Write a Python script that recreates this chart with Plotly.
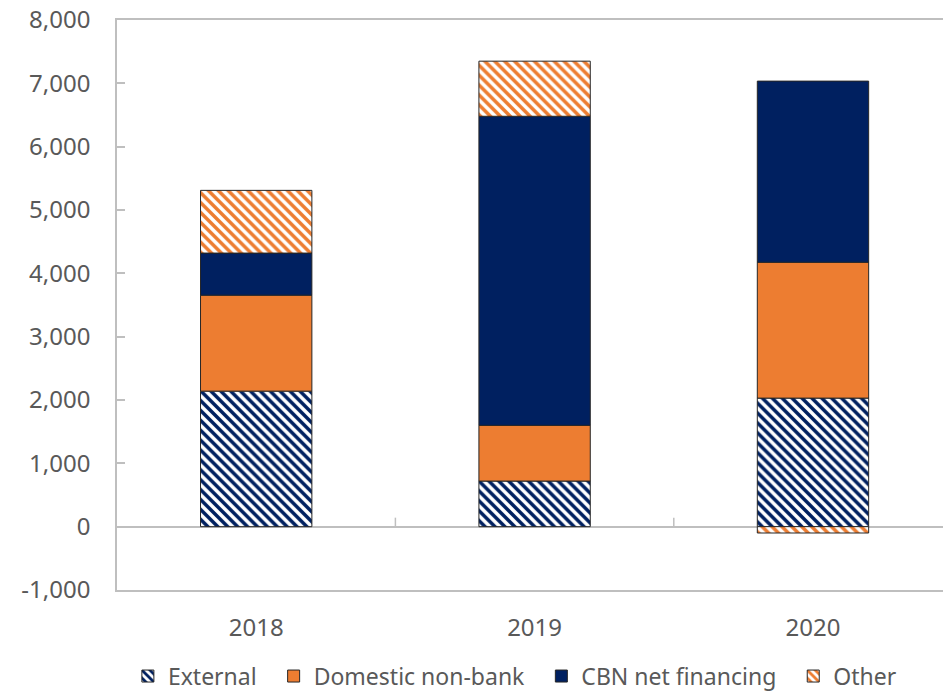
import plotly.graph_objects as go

categories = ["2018", "2019", "2020"]
series_names = ["External", "Domestic non-bank", "CBN net financing", "Other"]
external = [2140, 720, 2030]
domestic_non_bank = [1515, 880, 2145]
cbn_net_financing = [665, 4880, 2860]
other = [990, 870, -100]
y_tick_values = [-1000, 0, 1000, 2000, 3000, 4000, 5000, 6000, 7000, 8000]
y_tick_labels = [f"{v:,}" for v in y_tick_values]

NAVY = "#002060"
ORANGE = "#ED7D31"
OUTLINE = "#262626"
AXIS = "#BFBFBF"
TEXT = "#595959"
FONT = "Noto Sans"

fig = go.Figure()

def add_bar(name, values, color, hatched, pad):
    marker = dict(color=color, line=dict(color=OUTLINE, width=1))
    if hatched:
        marker["pattern"] = dict(shape="\\", fgcolor=color, bgcolor="white",
                                 size=7, solidity=0.5, fillmode="replace")
    fig.add_trace(go.Bar(name=name + "\u00a0" * pad, x=categories, y=values,
                         marker=marker, width=0.4))

add_bar(series_names[0], external, NAVY, True, 2)
add_bar(series_names[1], domestic_non_bank, ORANGE, False, 2)
add_bar(series_names[2], cbn_net_financing, NAVY, False, 2)
add_bar(series_names[3], other, ORANGE, True, 0)

n = len(categories)
shapes = []
for i in range(n - 1):
    shapes.append(dict(type="line", xref="x", yref="y", x0=i + 0.5, x1=i + 0.5,
                       ysizemode="pixel", yanchor=0, y0=0, y1=9,
                       line=dict(color=AXIS, width=1.5), layer="below"))

fig.update_layout(
    width=943, height=692,
    barmode="relative",
    plot_bgcolor="white", paper_bgcolor="white",
    margin=dict(l=117, r=0, t=20, b=102),
    font=dict(family=FONT, size=24, color=TEXT),
    showlegend=True,
    legend=dict(orientation="h", xref="container", x=0.546, xanchor="center",
                yref="container", y=0.023, yanchor="middle",
                font=dict(family=FONT, size=23, color=TEXT),
                traceorder="normal", itemwidth=30, tracegroupgap=0),
    shapes=shapes,
    xaxis=dict(type="category", range=[-0.5, n - 0.533],
               showline=True, linecolor=AXIS, linewidth=1.5, mirror=True,
               ticks="outside", ticklen=15, tickcolor="rgba(0,0,0,0)",
               showgrid=False, zeroline=False,
               tickfont=dict(family=FONT, size=24, color=TEXT)),
    yaxis=dict(range=[-1000, 8000], tickvals=y_tick_values, ticktext=y_tick_labels,
               showline=True, linecolor=AXIS, linewidth=1.5,
               ticks="inside", ticklen=8, tickcolor=AXIS, tickwidth=1.5,
               ticklabelstandoff=20,
               showgrid=False, zeroline=True, zerolinecolor=AXIS, zerolinewidth=1.5,
               tickfont=dict(family=FONT, size=24, color=TEXT)),
)

fig.write_html("out.html")
